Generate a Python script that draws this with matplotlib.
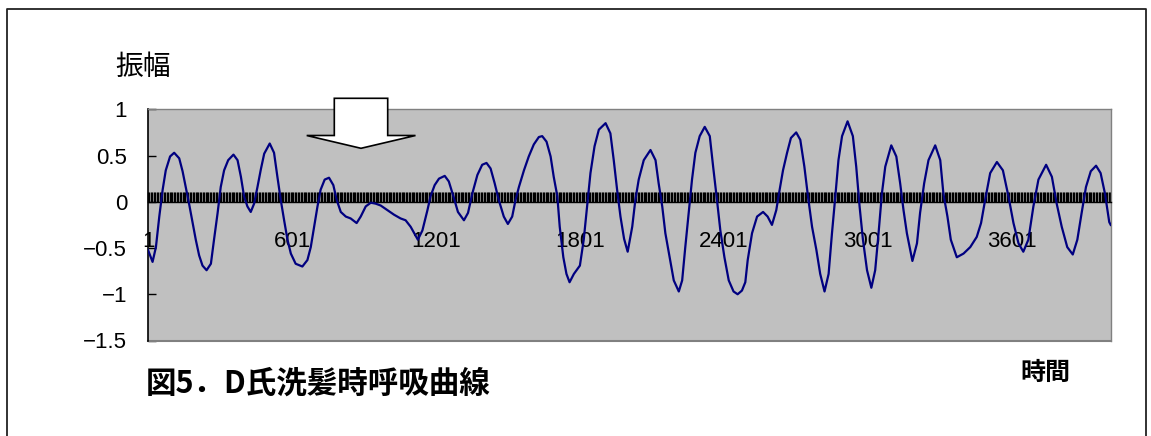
import matplotlib
matplotlib.use("Agg")
import matplotlib.pyplot as plt
from matplotlib.patches import Polygon
from matplotlib.lines import Line2D

# Breathing waveform: sample number and amplitude
sample_index = [
    1, 20, 34, 48, 62, 75, 93, 110, 131, 145, 159, 172, 187, 200, 214, 228, 245, 263, 276, 291,
    304, 318, 335, 357, 374, 388, 401, 415, 429, 443, 457, 471, 485, 508, 526, 540, 554, 568, 582, 596,
    616, 644, 665, 679, 693, 707, 720, 737, 755, 773, 787, 804, 825, 845, 870, 887, 908, 929, 949, 970,
    998, 1026, 1053, 1074, 1095, 1125, 1144, 1165, 1178, 1195, 1213, 1237, 1254, 1273, 1292, 1317, 1334, 1352, 1373, 1393,
    1411, 1428, 1445, 1462, 1483, 1500, 1518, 1532, 1546, 1567, 1587, 1608, 1629, 1643, 1661, 1678, 1691, 1706, 1716, 1731,
    1744, 1757, 1775, 1800, 1816, 1830, 1844, 1861, 1879, 1907, 1927, 1941, 1955, 1969, 1984, 1999, 2018, 2031, 2045, 2066,
    2094, 2115, 2128, 2143, 2156, 2174, 2191, 2212, 2226, 2239, 2253, 2267, 2281, 2299, 2320, 2341, 2355, 2371, 2385, 2402,
    2420, 2440, 2457, 2475, 2489, 2499, 2517, 2538, 2563, 2582, 2600, 2618, 2632, 2646, 2663, 2679, 2701, 2718, 2735, 2750,
    2767, 2785, 2801, 2819, 2836, 2850, 2864, 2877, 2892, 2915, 2937, 2951, 2965, 2979, 2996, 3014, 3030, 3044, 3058, 3072,
    3097, 3118, 3134, 3148, 3162, 3185, 3204, 3217, 3234, 3252, 3280, 3301, 3314, 3331, 3345, 3370, 3398, 3426, 3453, 3471,
    3488, 3509, 3537, 3562, 3585, 3606, 3627, 3647, 3668, 3689, 3710, 3742, 3766, 3786, 3807, 3830, 3853, 3872, 3890, 3908,
    3928, 3950, 3969, 3987, 4005, 4011,
]
amplitude = [
    -0.52, -0.65, -0.49, -0.16, 0.13, 0.34, 0.49, 0.53, 0.47, 0.33, 0.15, -0.02, -0.23, -0.41, -0.58, -0.69, -0.74, -0.67, -0.41, -0.12,
    0.16, 0.34, 0.45, 0.51, 0.45, 0.27, 0.06, -0.05, -0.11, -0.02, 0.16, 0.35, 0.52, 0.63, 0.53, 0.27, 0.02, -0.20, -0.41, -0.56,
    -0.67, -0.70, -0.63, -0.49, -0.27, -0.05, 0.13, 0.24, 0.26, 0.18, 0.02, -0.11, -0.16, -0.18, -0.23, -0.16, -0.05, -0.01, -0.02, -0.04,
    -0.09, -0.14, -0.18, -0.20, -0.27, -0.41, -0.31, -0.09, 0.06, 0.18, 0.25, 0.28, 0.22, 0.06, -0.11, -0.20, -0.12, 0.09, 0.29, 0.40,
    0.42, 0.36, 0.20, 0.02, -0.16, -0.24, -0.16, 0.02, 0.16, 0.34, 0.49, 0.62, 0.70, 0.71, 0.65, 0.49, 0.27, 0.06, -0.27, -0.60,
    -0.78, -0.87, -0.78, -0.69, -0.41, -0.05, 0.31, 0.60, 0.78, 0.85, 0.74, 0.45, 0.13, -0.16, -0.40, -0.54, -0.27, 0.02, 0.24, 0.45,
    0.56, 0.45, 0.20, -0.05, -0.34, -0.60, -0.85, -0.97, -0.85, -0.49, -0.12, 0.24, 0.53, 0.71, 0.81, 0.71, 0.38, 0.02, -0.31, -0.60,
    -0.85, -0.97, -1.00, -0.96, -0.87, -0.63, -0.34, -0.16, -0.11, -0.16, -0.25, -0.09, 0.13, 0.34, 0.53, 0.69, 0.75, 0.67, 0.38, 0.06,
    -0.27, -0.52, -0.78, -0.97, -0.78, -0.34, 0.06, 0.45, 0.71, 0.87, 0.71, 0.38, -0.05, -0.41, -0.74, -0.93, -0.74, -0.34, 0.09, 0.38,
    0.61, 0.49, 0.20, -0.09, -0.34, -0.64, -0.45, -0.12, 0.20, 0.45, 0.61, 0.45, 0.09, -0.16, -0.41, -0.60, -0.56, -0.49, -0.38, -0.23,
    0.02, 0.31, 0.43, 0.34, 0.06, -0.23, -0.45, -0.54, -0.41, -0.05, 0.24, 0.40, 0.27, -0.02, -0.27, -0.49, -0.57, -0.41, -0.12, 0.16,
    0.33, 0.39, 0.31, 0.09, -0.22, -0.25,
]
n_samples = 4011

category_ticks = [1, 601, 1201, 1801, 2401, 3001, 3601]
category_labels = ["1", "601", "1201", "1801", "2401", "3001", "3601"]
minor_step = 6

y_ticks = [1, 0.5, 0, -0.5, -1, -1.5]
y_labels = ["1", "0.5", "0", "\u22120.5", "\u22121", "\u22121.5"]

plt.rcParams["font.family"] = ["Liberation Sans", "Noto Sans CJK JP", "DejaVu Sans"]
CJK = ["Noto Sans CJK JP", "DejaVu Sans"]

W, H = 1151, 436
fig = plt.figure(figsize=(W / 100, H / 100), dpi=100)


def fx(px):
    return px / W


def fy(py):
    return 1 - py / H


left, right, top, bottom = 148, 1110.7, 109.3, 340.5
ax = fig.add_axes([fx(left), fy(bottom), fx(right) - fx(left), fy(top) - fy(bottom)])
ax.set_facecolor("#c0c0c0")

ax.plot(sample_index, amplitude, color="#000080", lw=1.6, zorder=3)
ax.set_xlim(1, n_samples)
ax.set_ylim(-1.5, 1)

# Frame: black value axis, grey border, category axis through zero
ax.spines["left"].set_color("black")
ax.spines["left"].set_linewidth(1.2)
for s in ("top", "right"):
    ax.spines[s].set_color("#808080")
    ax.spines[s].set_linewidth(1.0)
ax.spines["bottom"].set_position(("data", 0))
ax.spines["bottom"].set_color("black")
ax.spines["bottom"].set_linewidth(1.0)
ax.add_line(Line2D([0, 1], [0, 0], transform=ax.transAxes, color="#808080",
                   lw=1.5, clip_on=False))

ax.set_xticks(category_ticks)
ax.set_xticklabels(category_labels)
ax.set_xticks(list(range(1, n_samples + 1, minor_step)), minor=True)
ax.tick_params(axis="x", which="both", direction="in", length=7.2, width=1.0,
               color="black")
ax.tick_params(axis="x", which="major", labelsize=16, pad=21)

ax.set_yticks(y_ticks)
ax.set_yticklabels(y_labels)
ax.tick_params(axis="y", direction="in", length=5.5, width=1.0, labelsize=16, pad=15)

# Text
fig.text(fx(115), fy(67), "振幅", fontsize=20, ha="left", va="center", family=CJK)
fig.text(fx(146), fy(384), "図5．D氏洗髪時呼吸曲線", fontsize=22, weight="bold",
         ha="left", va="center", family=CJK)
fig.text(fx(1045.5), fy(373), "時間", fontsize=18, weight="bold",
         ha="center", va="center", family=CJK)

# Down arrow marking the interval of interest
arrow_px = [(334.3, 98.3), (387.7, 98.3), (387.7, 135.5), (415.5, 135.5),
            (361.0, 148.3), (306.7, 135.5), (334.3, 135.5)]
fig.add_artist(Polygon([(fx(x), fy(y)) for x, y in arrow_px], closed=True,
                       facecolor="white", edgecolor="black", lw=1.2,
                       transform=fig.transFigure, zorder=10))

# Chart-area border
fig.add_artist(Line2D([fx(7.3), fx(7.3), fx(1145.7), fx(1145.7)],
                      [fy(440), fy(9.3), fy(9.3), fy(440)],
                      transform=fig.transFigure, color="#222222", lw=1.3))

fig.savefig("out.png", dpi=100)
